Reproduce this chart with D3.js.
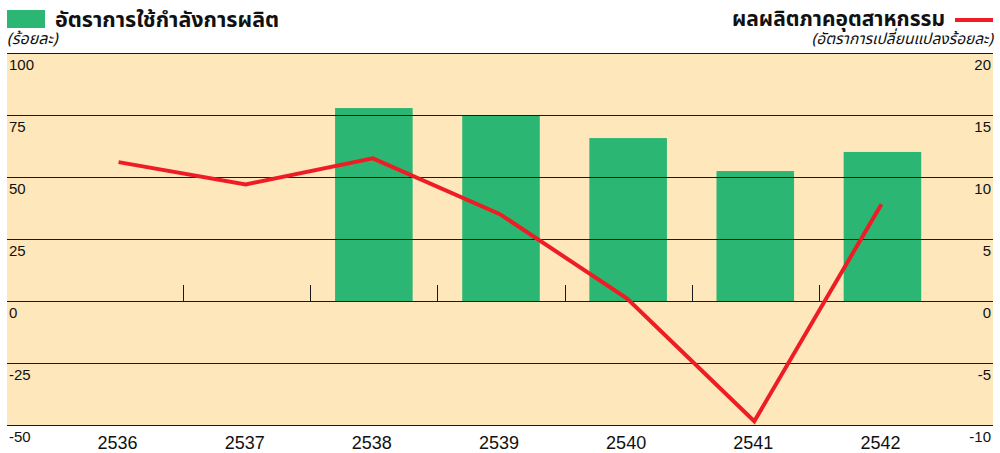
<!DOCTYPE html>
<html>
<head>
<meta charset="utf-8">
<script src="https://cdn.jsdelivr.net/npm/d3@7"></script>
<style>
  html, body { margin: 0; padding: 0; background: #fff; }
  svg { display: block; font-family: "Liberation Sans", Arial, sans-serif; }
  .thai { font-family: Tahoma, "Noto Sans Thai", "Liberation Sans", sans-serif; }
</style>
</head>
<body>
<svg id="chart" width="1000" height="453"></svg>
<script>
// data
const years = ["2536", "2537", "2538", "2539", "2540", "2541", "2542"];
const capacityUse = [null, null, 77.8, 74.6, 65.7, 52.4, 60.1];   // left axis, bars
const industryGrowth = [11.2, 9.4, 11.5, 7.0, 0.2, -9.7, 7.8];     // right axis, line
const leftTicks = [100, 75, 50, 25, 0, -25, -50];
const rightTicks = [20, 15, 10, 5, 0, -5, -10];

const svg = d3.select("#chart");

// plot box
const px0 = 7, px1 = 993, pyTop = 53, pyBot = 425;

const yLeft = d3.scaleLinear().domain([-50, 100]).range([pyBot, pyTop]);
const yRight = d3.scaleLinear().domain([-10, 20]).range([pyBot, pyTop]);
const x = d3.scaleBand().domain(years).range([56, 946])
    .paddingInner(0.39).paddingOuter(0.195);

// background
svg.append("rect")
    .attr("x", px0).attr("y", pyTop)
    .attr("width", px1 - px0).attr("height", pyBot - pyTop)
    .attr("fill", "#fde7bb");

// bars
const barData = years.map((y, i) => ({ year: y, v: capacityUse[i] })).filter(d => d.v !== null);
svg.append("g").selectAll("rect")
    .data(barData)
    .enter()
    .append("rect")
    .attr("x", d => x(d.year))
    .attr("width", x.bandwidth())
    .attr("y", d => yLeft(d.v))
    .attr("height", d => yLeft(0) - yLeft(d.v))
    .attr("fill", "#2bb673");

// grid lines (one per left tick)
svg.append("g").selectAll("line")
    .data(leftTicks)
    .enter()
    .append("line")
    .attr("x1", px0).attr("x2", px1)
    .attr("y1", d => Math.round(yLeft(d)) + 0.5)
    .attr("y2", d => Math.round(yLeft(d)) + 0.5)
    .attr("stroke", "#1a1a1a")
    .attr("stroke-width", 1.2);

// little separators between categories on the zero line
const gap = x.step() - x.bandwidth();
svg.append("g").selectAll("line")
    .data(years.slice(1))
    .enter()
    .append("line")
    .attr("x1", d => Math.round(x(d) - gap / 2) + 0.5)
    .attr("x2", d => Math.round(x(d) - gap / 2) + 0.5)
    .attr("y1", yLeft(0) - 16)
    .attr("y2", yLeft(0))
    .attr("stroke", "#1a1a1a")
    .attr("stroke-width", 1);

// tick labels sit just under their grid line
svg.append("g").selectAll("text")
    .data(leftTicks)
    .enter()
    .append("text")
    .attr("x", 9)
    .attr("y", d => yLeft(d) + 17)
    .attr("font-size", 15)
    .attr("fill", "#111")
    .text(d => d);

svg.append("g").selectAll("text")
    .data(rightTicks)
    .enter()
    .append("text")
    .attr("x", 991)
    .attr("y", d => yRight(d) + 17)
    .attr("text-anchor", "end")
    .attr("font-size", 15)
    .attr("fill", "#111")
    .text(d => d);

// year labels
svg.append("g").selectAll("text")
    .data(years)
    .enter()
    .append("text")
    .attr("x", d => x(d) + x.bandwidth() / 2 - 2)
    .attr("y", 449)
    .attr("text-anchor", "middle")
    .attr("font-size", 18)
    .attr("fill", "#111")
    .text(d => d);

// growth line
const line = d3.line()
    .x((d, i) => x(years[i]) + x.bandwidth() / 2 - 1)
    .y(d => yRight(d));
svg.append("path")
    .datum(industryGrowth)
    .attr("d", line)
    .attr("fill", "none")
    .attr("stroke", "#ee1d25")
    .attr("stroke-width", 4)
    .attr("stroke-linejoin", "miter");

// legends / titles
svg.append("rect")
    .attr("x", 7).attr("y", 10).attr("width", 38).attr("height", 18)
    .attr("fill", "#2bb673");
svg.append("text")
    .attr("class", "thai")
    .attr("x", 55).attr("y", 27)
    .attr("font-size", 21.5).attr("font-weight", "bold").attr("fill", "#111")
    .text("อัตราการใช้กำลังการผลิต");
svg.append("text")
    .attr("class", "thai")
    .attr("x", 7).attr("y", 44)
    .attr("font-size", 16).attr("font-style", "italic").attr("fill", "#111")
    .text("(ร้อยละ)");

svg.append("text")
    .attr("class", "thai")
    .attr("x", 945).attr("y", 26)
    .attr("text-anchor", "end")
    .attr("font-size", 21).attr("font-weight", "bold").attr("fill", "#111")
    .text("ผลผลิตภาคอุตสาหกรรม");
svg.append("line")
    .attr("x1", 955).attr("x2", 993).attr("y1", 20).attr("y2", 20)
    .attr("stroke", "#ee1d25").attr("stroke-width", 4);
svg.append("text")
    .attr("class", "thai")
    .attr("x", 993).attr("y", 44)
    .attr("text-anchor", "end")
    .attr("font-size", 15.5).attr("font-style", "italic").attr("fill", "#111")
    .text("(อัตราการเปลี่ยนแปลงร้อยละ)");
</script>
</body>
</html>
